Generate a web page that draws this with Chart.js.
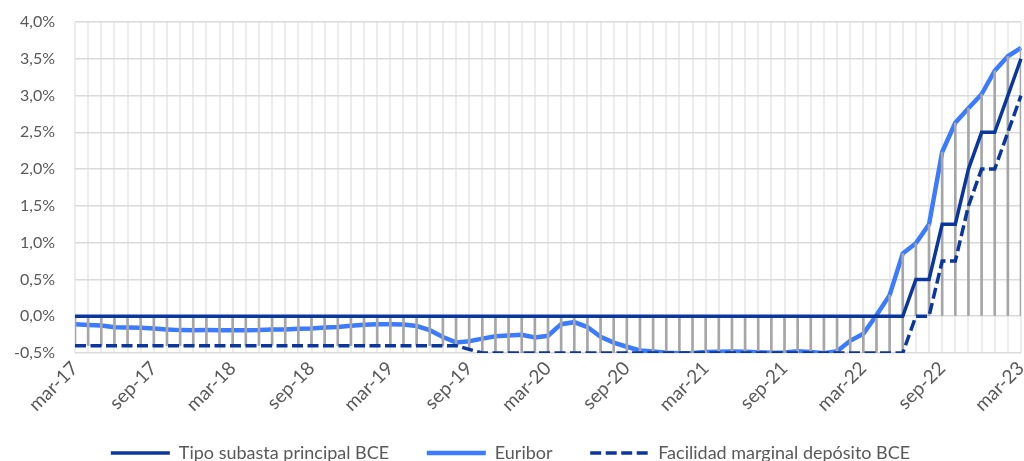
<!DOCTYPE html>
<html>
<head>
<meta charset="utf-8">
<script src="https://cdn.jsdelivr.net/npm/chart.js@4.4.0/dist/chart.umd.min.js"></script>
<style>
  html, body { margin: 0; padding: 0; background: #fff; overflow: hidden; }
  #wrap { width: 1024px; height: 461px; overflow: hidden; }
</style>
</head>
<body>
<div id="wrap"><canvas id="ratesChart" width="1024" height="472"></canvas></div>
<script>
// monthly categories, mar-17 .. mar-23
const months = [
  'mar-17','abr-17','may-17','jun-17','jul-17','ago-17','sep-17','oct-17','nov-17','dic-17',
  'ene-18','feb-18','mar-18','abr-18','may-18','jun-18','jul-18','ago-18','sep-18','oct-18','nov-18','dic-18',
  'ene-19','feb-19','mar-19','abr-19','may-19','jun-19','jul-19','ago-19','sep-19','oct-19','nov-19','dic-19',
  'ene-20','feb-20','mar-20','abr-20','may-20','jun-20','jul-20','ago-20','sep-20','oct-20','nov-20','dic-20',
  'ene-21','feb-21','mar-21','abr-21','may-21','jun-21','jul-21','ago-21','sep-21','oct-21','nov-21','dic-21',
  'ene-22','feb-22','mar-22','abr-22','may-22','jun-22','jul-22','ago-22','sep-22','oct-22','nov-22','dic-22',
  'ene-23','feb-23','mar-23'
];

const seriesNames = ['Tipo subasta principal BCE', 'Euribor', 'Facilidad marginal depósito BCE'];

// Tipo subasta principal BCE (%)
const tipoBCE = [
  0,0,0,0,0,0,0,0,0,0,
  0,0,0,0,0,0,0,0,0,0,0,0,
  0,0,0,0,0,0,0,0,0,0,0,0,
  0,0,0,0,0,0,0,0,0,0,0,0,
  0,0,0,0,0,0,0,0,0,0,0,0,
  0,0,0,0,0,0,0.5,0.5,1.25,1.25,2.0,2.5,
  2.5,3.0,3.5
];

// Euribor 12m (%)
const euribor = [
  -0.110,-0.119,-0.127,-0.149,-0.154,-0.156,-0.168,-0.180,-0.189,-0.190,
  -0.189,-0.191,-0.191,-0.190,-0.188,-0.181,-0.180,-0.169,-0.166,-0.154,-0.147,-0.129,
  -0.116,-0.108,-0.109,-0.112,-0.134,-0.190,-0.283,-0.356,-0.339,-0.304,-0.272,-0.261,
  -0.253,-0.288,-0.266,-0.108,-0.081,-0.147,-0.279,-0.359,-0.415,-0.466,-0.481,-0.497,
  -0.505,-0.501,-0.487,-0.484,-0.481,-0.484,-0.491,-0.498,-0.492,-0.477,-0.487,-0.502,
  -0.477,-0.335,-0.237,0.013,0.287,0.852,0.992,1.249,2.233,2.629,2.828,3.018,
  3.337,3.534,3.647
];

// Facilidad marginal depósito BCE (%)
const depositoBCE = [
  -0.4,-0.4,-0.4,-0.4,-0.4,-0.4,-0.4,-0.4,-0.4,-0.4,
  -0.4,-0.4,-0.4,-0.4,-0.4,-0.4,-0.4,-0.4,-0.4,-0.4,-0.4,-0.4,
  -0.4,-0.4,-0.4,-0.4,-0.4,-0.4,-0.4,-0.4,-0.45,-0.5,-0.5,-0.5,
  -0.5,-0.5,-0.5,-0.5,-0.5,-0.5,-0.5,-0.5,-0.5,-0.5,-0.5,-0.5,
  -0.5,-0.5,-0.5,-0.5,-0.5,-0.5,-0.5,-0.5,-0.5,-0.5,-0.5,-0.5,
  -0.5,-0.5,-0.5,-0.5,-0.5,-0.5,0,0,0.75,0.75,1.5,2.0,
  2.0,2.5,3.0
];

const yTicks = [-0.5, 0, 0.5, 1.0, 1.5, 2.0, 2.5, 3.0, 3.5, 4.0];

// high-low lines: span of the three series (and the zero line) at each month
const highLow = months.map((m, i) => {
  const vals = [tipoBCE[i], euribor[i], depositoBCE[i], 0];
  return [Math.min(...vals), Math.max(...vals)];
});

const tickColor = '#595959';
const fontFamily = 'Lato, "Open Sans", sans-serif';

const ctx = document.getElementById('ratesChart').getContext('2d');
new Chart(ctx, {
  type: 'line',
  data: {
    labels: months,
    datasets: [
      {
        label: seriesNames[0],
        data: tipoBCE,
        borderColor: '#0a379e',
        backgroundColor: '#0a379e',
        borderWidth: 3.5,
        pointRadius: 0,
        tension: 0,
        order: 1
      },
      {
        label: seriesNames[1],
        data: euribor,
        borderColor: '#3a7bff',
        backgroundColor: '#3a7bff',
        borderWidth: 4.5,
        pointRadius: 0,
        tension: 0,
        order: 4
      },
      {
        label: seriesNames[2],
        data: depositoBCE,
        borderColor: '#0a379e',
        backgroundColor: '#0a379e',
        borderWidth: 3.5,
        borderDash: [11, 4.5],
        pointRadius: 0,
        tension: 0,
        order: 2
      },
      {
        type: 'bar',
        label: 'hilo',
        data: highLow,
        backgroundColor: '#a6a6a6',
        barThickness: 2,
        order: 3
      }
    ]
  },
  options: {
    responsive: false,
    animation: false,
    layout: { padding: { top: 22, right: 3, left: 0, bottom: 0 } },
    plugins: {
      tooltip: { enabled: false },
      legend: {
        position: 'bottom',
        labels: {
          usePointStyle: true,
          pointStyle: 'line',
          pointStyleWidth: 59,
          padding: 10,
          color: tickColor,
          font: { family: fontFamily, size: 18 },
          filter: item => item.datasetIndex < 3,
          sort: (a, b) => a.datasetIndex - b.datasetIndex,
          generateLabels: chart => {
            const items = Chart.defaults.plugins.legend.labels.generateLabels(chart);
            items.forEach(it => {
              const ds = chart.data.datasets[it.datasetIndex];
              it.lineDash = ds.borderDash || [];
              it.lineWidth = ds.borderWidth;
              if (it.datasetIndex < 2) it.text += '      ';
            });
            return items;
          }
        }
      }
    },
    scales: {
      x: {
        offset: false,
        border: { display: false },
        grid: { offset: false, color: '#ededed', lineWidth: 2, drawTicks: false },
        ticks: {
          autoSkip: false,
          maxRotation: 45,
          minRotation: 45,
          padding: 4,
          color: tickColor,
          font: { family: fontFamily, size: 19 },
          callback: (val, i) => (i % 6 === 0 ? months[i] : '')
        },
        afterFit: scale => {
          scale.height = 81;
          scale.paddingLeft = 0;
          scale.paddingRight = 0;
        }
      },
      y: {
        min: -0.5,
        max: 4.0,
        border: { display: false },
        grid: { color: '#dadada', lineWidth: 1.5, drawTicks: false },
        afterBuildTicks: scale => { scale.ticks = yTicks.map(v => ({ value: v })); },
        ticks: {
          padding: 20,
          color: tickColor,
          font: { family: fontFamily, size: 16 },
          callback: v => v.toFixed(1).replace('.', ',') + '%'
        },
        afterFit: scale => {
          scale.width = 75;
          scale.paddingTop = 0;
          scale.paddingBottom = 0;
        }
      }
    }
  }
});
</script>
</body>
</html>
